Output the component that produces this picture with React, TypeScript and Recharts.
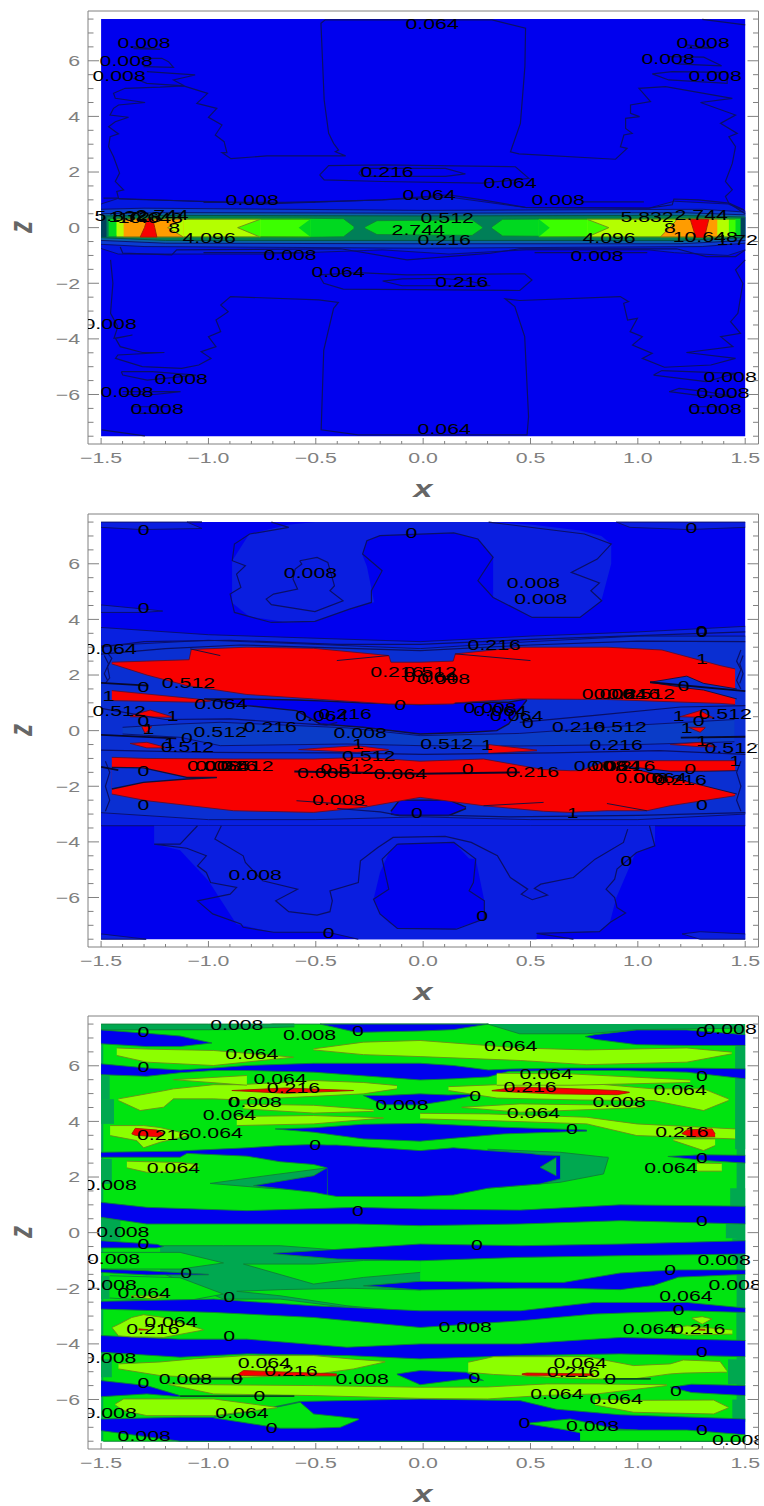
import { Area, ComposedChart, Scatter, XAxis, YAxis } from "recharts";

type Band = [number, number, number][];
type Path = [number, number][];
type Tag = [number, number, string][];
type Layer = { rows: Band; fill: string; stroke?: string; width?: number };
type Trace = { points: Path; stroke?: string; width?: number };

const xTicks = [-1.5,-1.4,-1.3,-1.2,-1.1,-1,-0.9,-0.8,-0.7,-0.6,-0.5,-0.4,-0.3,-0.2,-0.1,0,0.1,0.2,0.3,0.4,0.5,0.6,0.7,0.8,0.9,1,1.1,1.2,1.3,1.4,1.5];
const zTicks = [-7.5,-7,-6.5,-6,-5.5,-5,-4.5,-4,-3.5,-3,-2.5,-2,-1.5,-1,-0.5,0,0.5,1,1.5,2,2.5,3,3.5,4,4.5,5,5.5,6,6.5,7,7.5];

const BLUE = "#0000ee";
const NAVY = "#0a0f66";
const RED = "#f80000";
const DARKRED = "#5a1030";
const SEA = "#00a850";
const BRIGHT = "#00e410";
const LIME = "#8cff00";
const EDGE = "#0f8038";
const OLIVE = "#6c8c18";

const fullArea: Band = [[-1.5,7.5,-7.5],[1.5,7.5,-7.5]];

// top panel: the hot strip round z = 0
const stripA: Band = [[-1.5,0.85,-0.75],[-1.42,1.05,-0.95],[-0.73,0.85,-0.95],[-0.19,1,-0.8],[0.12,1.1,-0.95],[0.48,0.72,-0.8],[1.05,0.7,-0.8],[1.17,0.95,-0.9],[1.42,0.85,-1],[1.5,0.6,-0.8]];
const stripB: Band = [[-1.5,0.66,-0.6],[-1.3,0.7,-0.68],[0,0.62,-0.74],[1.3,0.66,-0.68],[1.5,0.56,-0.56]];
const stripC: Band = [[-1.5,0.5,-0.46],[-1.2,0.54,-0.56],[0,0.52,-0.58],[1.2,0.54,-0.58],[1.5,0.46,-0.46]];
const stripD: Band = [[-1.5,0.42,-0.36],[-1.2,0.44,-0.46],[0,0.42,-0.46],[1.2,0.44,-0.46],[1.5,0.38,-0.36]];
const stripEndLeft: Band = [[-1.5,0.4,-0.34],[-1.475,0.38,-0.34]];
const stripEndRight: Band = [[1.48,0.36,-0.34],[1.5,0.36,-0.34]];
const greenLeft: Band = [[-1.465,0.33,-0.33],[-0.572,0.34,-0.35],[-0.371,0.32,-0.33],[-0.324,0.05,-0.05]];
const greenMid: Band = [[-0.27,0.03,-0.03],[-0.215,0.25,-0.25],[0.228,0.28,-0.28],[0.275,0.03,-0.03]];
const greenRight: Band = [[0.321,0.03,-0.03],[0.37,0.3,-0.3],[1.3,0.34,-0.36],[1.478,0.34,-0.3]];
const limeLeft: Band = [[-1.43,0.3,-0.3],[-0.526,0.3,-0.33]];
const limeRight: Band = [[0.539,0.3,-0.33],[1.455,0.3,-0.3]];
const notchLeft: Band = [[-0.58,0,0],[-0.526,0.3,-0.33]];
const notchRight: Band = [[0.539,0.3,-0.33],[0.59,0,0]];
const yellowLeft: Band = [[-1.427,0.3,-0.33],[-0.759,0.3,-0.33]];
const yellowRight: Band = [[0.764,0.3,-0.33],[1.424,0.3,-0.33]];
const limeTipLeft: Band = [[-0.864,0,0],[-0.759,0.3,-0.34]];
const limeTipRight: Band = [[0.764,0.3,-0.34],[0.865,0,0]];
const orangeLeft: Band = [[-1.395,0.3,-0.33],[-1.116,0.3,-0.33]];
const yellowTip: Band = [[-1.19,0,0],[-1.116,0.3,-0.34]];
const orangeRight: Band = [[1.106,-0.33,-0.33],[1.175,0.22,-0.33],[1.18,0.3,-0.33],[1.37,0.3,-0.33]];
const redLeft: Band = [[-1.318,-0.34,-0.34],[-1.298,0.0,-0.34],[-1.285,0.32,-0.34],[-1.26,0.32,-0.34],[-1.25,0.0,-0.34],[-1.24,-0.34,-0.34]];
const redRight: Band = [[1.245,0.3,0.28],[1.27,0.3,-0.35],[1.31,0.3,-0.35],[1.33,0.3,0.28]];

const upperContour: Path = [[-1.489,1.06],[-1.419,1.06],[-1.427,1.3],[-1.395,1.36],[-1.434,1.66],[-1.414,1.96],[-1.442,2.55],[-1.465,2.91],[-1.458,3.27],[-1.419,3.37],[-1.465,3.63],[-1.434,3.81],[-1.372,3.97],[-1.458,4.05],[-1.442,4.29],[-1.419,4.41],[-1.295,4.5],[-1.434,4.65],[-1.442,4.83],[-1.388,5.01],[-1.225,5.05],[-1.116,5.1],[-1.004,4.83],[-1.054,4.47],[-0.961,4.29],[-1,3.97],[-0.937,3.69],[-0.968,3.33],[-0.927,3.09],[-0.914,2.7],[-0.937,2.7],[-0.895,2.48],[-0.728,2.58],[-0.361,2.58],[-0.409,2.73],[-0.394,2.79],[-0.417,3.03],[-0.44,3.39],[-0.461,4.59],[-0.476,7.35],[-0.456,7.47],[-0.19,7.47],[0.321,7.47],[0.477,7.17],[0.474,5.79],[0.453,3.75],[0.415,2.91],[0.407,2.73],[0.446,2.65],[0.896,2.46],[0.95,2.85],[0.919,2.91],[0.935,3.33],[0.974,3.39],[0.943,3.57],[0.943,3.93],[1.008,3.99],[0.966,4.11],[0.966,4.41],[1.059,4.53],[1.005,5.01],[1.129,5.07],[1.44,4.65],[1.292,4.5],[1.455,4.05],[1.385,3.75],[1.463,3.39],[1.424,3.27],[1.455,2.91],[1.44,2.31],[1.408,1.66],[1.44,1.36],[1.408,1.12],[1.424,0.88],[1.494,0.64]];
const lowerContour: Path = [[-1.456,-1.16],[-1.445,-2],[-1.456,-3.08],[-1.422,-3.56],[-1.44,-3.98],[-1.354,-3.86],[-1.433,-3.98],[-1.411,-4.28],[-1.308,-4.49],[-1.205,-4.49],[-1.422,-4.58],[-1.433,-4.7],[-1.308,-5],[-1.125,-5.06],[-1.045,-4.94],[-0.988,-4.7],[-1.034,-4.46],[-0.965,-4.28],[-1,-3.92],[-0.943,-3.74],[-0.965,-3.32],[-0.908,-3.02],[-0.943,-2.78],[-0.897,-2.48],[-0.486,-2.6],[-0.395,-2.69],[-0.417,-2.9],[-0.463,-4.4],[-0.475,-7.27],[-0.303,-7.45],[0.484,-7.45],[0.491,-6.8],[0.473,-3.92],[0.427,-2.84],[0.382,-2.56],[0.45,-2.62],[0.918,-2.48],[0.957,-2.66],[0.934,-2.72],[0.952,-3.32],[0.998,-3.26],[0.964,-3.74],[1.021,-3.92],[0.975,-4.22],[1.067,-4.52],[1.021,-4.7],[1.124,-5.02],[1.34,-4.94],[1.455,-4.7],[1.226,-4.49],[1.443,-4.28],[1.386,-3.92],[1.478,-3.8],[1.432,-3.38],[1.466,-3.08],[1.489,-2],[1.455,-1.52],[1.5,-1.16]];
const aboveStrip: Path = [[-1.419,1.03],[-0.728,0.88],[-0.19,1],[0.12,1.18],[0.275,1],[0.477,0.73],[1.051,0.7],[1.16,0.82],[1.168,1.03],[1.284,1],[1.424,0.88],[1.5,0.5]];
const belowStrip: Path = [[-1.411,-0.7],[-1.399,-0.92],[-1.171,-0.98],[-1.148,-0.8],[-0.383,-0.76],[-0.075,-1.16],[0.313,-0.92],[0.45,-0.76],[1.181,-0.76],[1.318,-1.04],[1.455,-1.04],[1.5,-0.8]];
const lensUpper: Path = [[-0.482,1.9],[-0.44,2.23],[-0.19,2.26],[0.43,2.19],[0.492,1.77],[0.275,1.6],[-0.191,1.66],[-0.461,1.72],[-0.482,1.9]];
const lensUpperInner: Path = [[-0.3,1.95],[-0.285,2.13],[0.104,2.13],[0.197,1.93],[0.104,1.84],[-0.285,1.84],[-0.3,1.95]];
const lensLower: Path = [[-0.486,-1.7],[-0.463,-2],[-0.372,-2.21],[0.45,-2.26],[0.507,-1.88],[0.473,-1.66],[-0.075,-1.7],[-0.303,-1.62],[-0.486,-1.7]];
const lensLowerInner: Path = [[-0.189,-1.92],[-0.098,-1.84],[0.085,-1.82],[0.2,-1.9],[0.313,-2.09],[-0.098,-2.09],[-0.189,-1.92]];
const smallPaths: Path[] = [
  [[-1.364,6.51],[-1.225,6.41],[-1.349,6.44]],
  [[-1.318,6.09],[-1.217,6.09],[-1.186,5.97],[-1.163,5.76],[-1.302,5.79]],
  [[-1.287,5.61],[-1.062,5.49],[-1.163,5.31],[-1.113,5.1],[-1.287,5.19],[-1.349,5.37]],
  [[1.23,6.57],[1.354,6.45],[1.23,6.45]],
  [[1.137,6.15],[1.307,6.13],[1.39,5.82],[1.175,5.89]],
  [[1.067,5.53],[1.16,5.61],[1.416,5.58],[1.416,5.19],[1.144,5.31],[1.067,5.53]],
  [[-1.023,0.91],[-0.503,0.91]],
  [[0.741,0.93],[1.028,0.93]],
  [[-1.023,-0.9],[-0.509,-0.9]],
  [[0.519,-0.9],[1.044,-0.9]],
  [[-1.406,-5.18],[-1.262,-5.18],[-1.057,-5.3],[-1.285,-5.48],[-1.399,-5.3],[-1.406,-5.18]],
  [[-1.4,-5.9],[-1.13,-5.9],[-1.25,-6],[-1.4,-6]],
  [[-1.354,-6.44],[-1.182,-6.44]],
  [[-1.354,-6.68],[-1.182,-6.68]],
  [[1.073,-5.3],[1.112,-5.14],[1.455,-5.24],[1.318,-5.54],[1.073,-5.3]],
  [[1.146,-5.9],[1.192,-5.78],[1.318,-5.9],[1.455,-6.08],[1.272,-6.02],[1.146,-5.9]],
  [[1.249,-6.44],[1.386,-6.44]],
  [[1.249,-6.66],[1.386,-6.66]],
  [[-1.497,-7.27],[-1.296,-7.49]],
  [[1.3,7.49],[1.5,7.29]],
];
const topTags: Tag = [[-1.3,6.64,"0.008"],[-1.383,6,"0.008"],[-1.416,5.46,"0.008"],[0.042,7.33,"0.064"],[1.304,6.64,"0.008"],[1.141,6.07,"0.008"],[1.36,5.46,"0.008"],[-0.168,2,"0.216"],[0.405,1.61,"0.064"],[0.028,1.18,"0.064"],[-0.796,1,"0.008"],[0.629,1,"0.008"],[0.112,0.35,"0.512"],[-1.407,0.42,"5.832"],[-1.341,0.38,"1.728"],[-1.271,0.35,"10.648"],[-1.216,0.45,"2.744"],[-1.16,0,"8"],[-0.997,-0.37,"4.096"],[-0.023,-0.08,"2.744"],[0.098,-0.44,"0.216"],[0.866,-0.37,"4.096"],[1.043,0.38,"5.832"],[1.295,0.45,"2.744"],[1.15,0,"8"],[1.314,-0.33,"10.648"],[1.49,-0.44,"1.728"],[-0.62,-0.98,"0.008"],[0.81,-1.01,"0.008"],[-0.396,-1.6,"0.064"],[0.18,-1.96,"0.216"],[-1.458,-3.46,"0.008"],[-1.127,-5.44,"0.008"],[-1.379,-5.91,"0.008"],[-1.239,-6.52,"0.008"],[0.098,-7.24,"0.064"],[1.43,-5.37,"0.008"],[1.397,-5.94,"0.008"],[1.36,-6.52,"0.008"]];

// middle panel
const blobTop: Band = [[-0.89,6.1,4.6],[-0.81,7.07,4.1],[-0.63,7.4,3.89],[-0.5,7.5,3.93],[-0.34,7.5,4.37],[-0.24,7.5,4.61],[0.33,7.5,4.79],[0.51,7.4,4.07],[0.73,7.2,4.07],[0.83,7,4.67],[0.876,6.71,6]];
const gapTop: Band = [[-0.282,6.35,6.3],[-0.262,6.83,5.9],[-0.201,7.01,3.6],[0.143,7.11,3.6],[0.255,6.89,3.6],[0.326,6.23,4.79]];
const cornerTopLeft: Band = [[-1.5,7.5,7.31],[-1.31,7.5,7.23],[-1.03,7.5,7.27],[-1.1,7.5,7.5]];
const cornerTopRight: Band = [[0.9,7.5,7.5],[0.963,7.5,7.31],[1.236,7.5,7.23],[1.5,7.5,7.31]];
const lensLeftEdge: Band = [[-1.5,4.52,4.25],[-1.31,4.38,4.25],[-1.213,4.3,4.3]];
const midOuter: Band = [[-1.5,3.71,-3.42],[-1,3.45,-3.42],[-0.014,3.2,-3.42],[0.5,3.4,-3.42],[1,3.55,-3.42],[1.5,3.75,-3.42]];
const blobBottom: Band = [[-1.253,-3.42,-4.08],[-1.132,-3.42,-4.3],[-1,-3.42,-5.4],[-0.87,-3.42,-6.95],[-0.7,-3.42,-7.25],[-0.44,-3.42,-7.25],[-0.3,-3.42,-7.5],[0.528,-3.42,-7.5],[0.53,-3.42,-7.29],[0.82,-3.42,-7.23],[0.87,-3.42,-6.89],[0.9,-3.42,-6],[0.99,-3.42,-4.38],[1.08,-3.42,-4.14]];
const gapBottom: Band = [[-0.231,-6.06,-6.06],[-0.201,-5.1,-6.59],[-0.16,-4.4,-6.9],[-0.12,-4.08,-7.11],[0.143,-4.02,-7.14],[0.214,-4.6,-6.95],[0.245,-4.62,-6.9],[0.285,-6.12,-6.77]];
const cornerBottomLeft: Band = [[-1.5,-7.31,-7.5],[-1.29,-7.5,-7.5]];
const cornerBottomRight: Band = [[1.206,-7.31,-7.31],[1.29,-7.23,-7.5],[1.5,-7.31,-7.5]];
const midInner: Band = [[-1.5,3.05,-2.95],[-1,3.25,-3.2],[-0.5,3.1,-3.2],[-0.014,2.95,-3.1],[0.5,3.2,-3.2],[1,3.4,-3.2],[1.5,3.4,-3]];
const midCore: Band = [[-1.4,0.12,-0.12],[-1.132,0.24,-0.24],[-0.945,0.3,-0.54],[-0.355,0.1,-0.48],[-0.014,-0.18,-0.54],[0.45,-0.1,-0.55],[1,0.2,-0.5],[1.45,0.4,-0.4]];
const pocket: Band = [[-1.02,1.14,1.14],[-0.82,1.14,0.9],[-0.59,1.1,0.72],[-0.48,1.07,0.24],[-0.28,1,0.12],[-0.014,0.94,-0.12],[0.219,1.02,-0.06],[0.343,1.02,0],[0.398,1.02,0.24],[0.483,1.14,1.1]];
const pocketLow: Band = [[-0.15,-2.9,-3],[-0.11,-2.5,-3.05],[0.12,-2.5,-3.05],[0.2,-2.75,-2.8]];
const redUpper: Band = [[-1.45,2.46,2.4],[-1.287,2.5,2],[-1.09,2.55,1.6],[-1.08,2.92,1.6],[-0.821,3,1.3],[-0.51,2.96,1.14],[-0.16,2.7,0.96],[-0.15,2.46,0.96],[-0.014,2.46,0.94],[0.14,2.5,0.96],[0.15,2.76,1],[0.452,3,1.14],[0.856,3,1.12],[1.112,2.9,1.05],[1.383,2.34,0.98],[1.453,2.22,0.94]];
const redUpperTail: Band = [[-1.45,1.44,1.08],[-1.054,1.14,1.02],[-0.99,1.08,1.06]];
const redLower: Band = [[-1.45,-0.96,-2.28],[-1.287,-1,-2.52],[-0.883,-1.02,-2.88],[-0.51,-1.02,-2.94],[-0.278,-0.96,-2.76],[-0.014,-1.1,-2.4],[0.281,-1.02,-2.7],[0.561,-1.4,-2.9],[0.685,-1.44,-2.94],[0.731,-1.44,-2.92],[0.856,-1.1,-2.88],[1.042,-1.08,-2.88],[1.151,-1.08,-2.7],[1.453,-1.08,-2.34]];
const wedgeUpperRight: Band = [[1.057,1.74,1.74],[1.228,1.96,1.53],[1.306,1.7,1.46],[1.461,1.5,1.14]];
const wedgeLowerLeft: Band = [[-1.45,-1.32,-2.1],[-1.303,-1.34,-1.86],[-1.101,-1.68,-1.74],[-0.961,-1.68,-1.69]];
const wedgeLowerRight: Band = [[0.918,-1.26,-1.27],[1.151,-1.46,-1.68],[1.306,-1.46,-1.98],[1.461,-1.44,-2.28]];
const smallReds: Band[] = [
  [[-1.365,0.54,0.5],[-1.271,0.74,0.49],[-1.17,0.5,0.48]],
  [[-1.31,0.15,0.13],[-1.295,0.15,-0.1],[-1.264,0.15,0.13]],
  [[-1.365,-0.46,-0.46],[-1.287,-0.42,-0.62],[-1.2,-0.6,-0.62]],
  [[-0.58,-0.68,-0.68],[-0.309,-0.54,-0.78],[-0.161,-0.68,-0.7]],
  [[0.304,-0.5,-0.82],[0.53,-0.7,-0.72]],
  [[1.151,-0.5,-0.5],[1.29,-0.42,-0.58],[1.368,-0.58,-0.58]],
  [[1.197,0.5,0.5],[1.29,0.72,0.48],[1.352,0.46,0.46]],
  [[1.236,0.12,0.12],[1.29,0.12,-0.06],[1.314,0.12,0.1]],
];
const midLines: Path[] = [
  [[-1.5,3],[-1.3,3.2],[-0.9,3.25],[-0.4,3.1],[-0.014,3.1],[0.5,3.28],[1,3.42],[1.5,3.55]],
  [[-1.5,2.75],[-1.2,2.95],[-0.85,3.08],[-0.014,2.88],[0.5,3.08],[1,3.22],[1.5,3.2]],
  [[-1.47,2.8],[-1.45,2.6],[-1.47,2.3],[-1.46,1.9],[-1.48,1.7]],
  [[-1.485,2.7],[-1.465,2.4],[-1.485,2.05],[-1.47,1.8]],
  [[1.48,2.9],[1.46,2.5],[1.48,2.2],[1.46,1.8],[1.48,1.5]],
  [[1.49,2.7],[1.475,2.4],[1.49,2.05],[1.475,1.7]],
  [[-1.48,-1.1],[-1.46,-1.5],[-1.48,-2],[-1.46,-2.5],[-1.48,-2.9]],
  [[1.48,-1.1],[1.46,-1.5],[1.48,-2],[1.46,-2.5],[1.48,-2.9]],
  [[-1.5,0.8],[-1.2,0.4],[-0.9,0.42],[-0.45,0.2],[-0.4,0.3]],
  [[0.45,0.3],[0.8,0.55],[1.2,0.85],[1.5,0.9]],
  [[-1.5,-0.7],[-1,-0.78],[-0.4,-0.8],[0,-0.85],[0.6,-0.8],[1.1,-0.72],[1.5,-0.85]],
  [[-0.4,-2.8],[-0.2,-2.92],[-0.11,-3.05],[0.12,-3.05],[0.4,-3.1],[1,-3.05],[1.5,-2.95]],
];
const thickLines: Path[] = [
  [[-0.6,-1.47],[-0.014,-1.55],[0.45,-1.5]],
  [[-1.5,-0.15],[-1.15,-0.28]],
  [[-1.5,1.72],[-1.28,1.62]],
  [[1.057,1.74],[1.5,1.42]],
  [[1.2,-0.25],[1.5,-0.22]],
  [[-1.5,-1.3],[-1.42,-1.42]],
];
const thinDark: Path[] = [
  [[-0.402,2.52],[-0.161,2.7]],
  [[0.149,2.76],[0.5,2.52]],
  [[-1.085,2.94],[-0.945,2.7]],
  [[-0.59,-2.52],[-0.26,-2.7]],
  [[0.281,-2.7],[0.561,-2.58]],
  [[0.856,-2.62],[1.042,-2.88]],
];
const blobOutline: Path = [[-0.707,7.5],[-0.626,7.31],[-0.808,7.07],[-0.879,6.71],[-0.889,6.11],[-0.828,5.93],[-0.869,5.63],[-0.849,5.15],[-0.899,4.91],[-0.879,4.25],[-0.707,3.89],[-0.504,3.93],[-0.343,4.37],[-0.241,4.61],[-0.241,5.03],[-0.191,5.75],[-0.282,6.35],[-0.262,6.83],[-0.201,7.01],[0.143,7.11],[0.255,6.89],[0.326,6.23],[0.255,5.39],[0.326,4.79],[0.508,4.07],[0.73,4.07],[0.832,4.67],[0.781,5.03],[0.821,5.31],[0.69,5.69],[0.811,6.17],[0.876,6.71],[0.751,7.07],[0.305,7.5]];
const blobInner: Path = [[-0.575,6.11],[-0.494,6.23],[-0.444,6.05],[-0.413,5.21],[-0.434,5.03],[-0.373,4.67],[-0.504,4.28],[-0.707,4.53],[-0.731,4.73],[-0.697,4.91],[-0.585,5.09],[-0.606,5.45],[-0.596,5.81],[-0.565,5.99],[-0.575,6.11]];
const lowLeftEdge: Path = [[-1.051,-3.42],[-1.132,-4.08],[-1.253,-4.08],[-1.101,-4.23],[-1.01,-4.5],[-1.051,-4.86],[-1.01,-5.1],[-0.99,-5.46],[-0.869,-5.64],[-0.899,-5.88],[-1.051,-6.12],[-0.98,-6.59],[-0.849,-6.95],[-0.838,-7.07],[-0.697,-7.25],[-0.444,-7.25],[-0.302,-7.5]];
const lowRightEdge: Path = [[1.054,-3.42],[1.079,-4.14],[0.994,-4.38],[0.903,-4.98],[0.892,-5.34],[0.852,-5.7],[0.892,-6],[0.903,-6.36],[0.943,-6.56],[0.872,-6.89],[0.821,-7.23],[0.528,-7.29],[0.7,-7.5]];
const lowArc: Path = [[-0.94,-3.42],[-0.97,-3.9],[-0.838,-4.5],[-0.828,-4.74],[-0.747,-5.4],[-0.585,-5.7],[-0.687,-6.12],[-0.626,-6.51],[-0.494,-6.63],[-0.434,-6.51],[-0.423,-6.12],[-0.434,-5.76],[-0.302,-5.46],[-0.292,-4.68],[-0.211,-4.2],[-0.14,-3.84],[0.103,-3.8],[0.224,-4.02],[0.346,-4.5],[0.406,-5.28],[0.487,-5.7],[0.457,-5.88],[0.508,-6.08],[0.579,-5.91],[0.518,-5.67],[0.548,-5.52],[0.7,-5.28],[0.801,-4.62],[0.933,-4.02],[0.953,-3.54]];
const lowGap: Path = [[-0.12,-4.08],[0.143,-4.02],[0.245,-4.62],[0.234,-5.46],[0.214,-5.76],[0.285,-6.12],[0.285,-6.77],[0.154,-7.14],[-0.12,-7.11],[-0.201,-6.59],[-0.231,-6.06],[-0.16,-5.7],[-0.191,-4.62],[-0.12,-4.08]];
const midTags: Tag = [[-1.302,7.21,"0"],[-0.055,7.11,"0"],[1.25,7.31,"0"],[-0.525,5.69,"0.008"],[0.514,5.31,"0.008"],[0.548,4.73,"0.008"],[-1.302,4.41,"0"],[1.297,3.59,"0"],[-1.458,2.94,"0.064"],[-1.303,1.58,"0"],[-1.093,1.71,"0.512"],[-1.466,1.26,"1"],[-0.942,0.96,"0.064"],[-1.416,0.72,"0.512"],[-1.167,0.54,"1"],[-1.303,0.34,"0"],[-1.279,0.06,"1"],[-0.945,-0.03,"0.512"],[-0.712,0.14,"0.216"],[-0.472,0.54,"0.064"],[-0.363,0.6,"0.216"],[-0.293,-0.06,"0.008"],[-1.1,-0.26,"0"],[-1.18,-0.42,"1"],[-1.098,-0.58,"0.512"],[-0.304,-0.48,"1"],[-0.254,-0.9,"0.512"],[-0.976,-1.26,"0.008"],[-0.937,-1.26,"0.064"],[-0.898,-1.26,"0.216"],[-0.821,-1.26,"0.512"],[-1.303,-1.44,"0"],[-0.464,-1.5,"0.008"],[-0.355,-1.38,"0.512"],[-0.107,-1.54,"0.064"],[-1.303,-2.66,"0"],[-0.394,-2.5,"0.008"],[-0.029,-2.96,"0"],[-0.122,2.1,"0.216"],[0.033,2.1,"0.512"],[0.095,1.88,"0.008"],[0.033,1.92,"0.064"],[-0.107,0.93,"0"],[0.331,3.09,"0.216"],[1.298,3.54,"0"],[1.298,2.58,"1"],[1.213,1.62,"0"],[0.863,1.32,"0.008"],[0.918,1.32,"0.064"],[0.98,1.32,"0.216"],[1.05,1.32,"0.512"],[0.312,0.82,"0.008"],[0.359,0.72,"0.064"],[0.436,0.54,"0.064"],[0.488,0.3,"0"],[1.19,0.54,"1"],[1.283,0.36,"0"],[1.407,0.6,"0.512"],[1.228,0.12,"1"],[0.724,0.14,"0.216"],[0.918,0.14,"0.512"],[0.11,-0.48,"0.512"],[0.297,-0.5,"1"],[0.899,-0.5,"0.216"],[1.298,-0.38,"1"],[1.435,-0.6,"0.512"],[1.453,-1.1,"1"],[0.208,-1.38,"0"],[0.509,-1.48,"0.216"],[0.825,-1.26,"0.008"],[0.887,-1.26,"0.064"],[0.957,-1.26,"0.216"],[1.019,-1.7,"0.008"],[1.104,-1.7,"0.064"],[1.197,-1.78,"0.216"],[1.244,-1.38,"0"],[1.298,-2.66,"0"],[0.696,-2.96,"1"],[-0.782,-5.19,"0.008"],[0.947,-4.68,"0"],[0.275,-6.65,"0"],[-0.44,-7.28,"0"]];

// bottom panel
const brightBase: Band = [[-1.49,7.3,-7.5],[-0.9,7.3,-7.5],[-0.7,7.5,-7.5],[-0.48,7.5,-7.5],[0.3,7.5,-7.5],[0.45,7.15,-7.5],[0.76,7.15,-7.5],[1,7.3,-7.5],[1.46,7.35,-7.5]];
const seaColumns: Band[] = [
  [[-1.5,5.65,4.8],[-1.46,5.65,4.8]],
  [[-1.5,4.8,3.91],[-1.44,4.8,3.91]],
  [[-1.5,2.65,1.75],[-1.45,2.65,1.75]],
  [[-1.5,0.55,-0.29],[-1.41,0.55,-0.29]],
  [[-1.5,-1.55,-2.39],[-1.46,-1.55,-2.39]],
  [[-1.5,-4.55,-5.2],[-1.45,-4.55,-5.2]],
  [[1.453,6.7,3],[1.5,6.7,3]],
  [[1.43,1.6,0.9],[1.5,1.6,0.9]],
  [[1.41,0.9,-0.2],[1.5,0.9,-0.2]],
  [[1.44,-0.2,-1],[1.5,-0.2,-1]],
  [[1.46,-2.9,-3.9],[1.5,-2.9,-3.9]],
  [[1.42,-4.55,-5.45],[1.5,-4.55,-5.45]],
  [[1.44,-6,-6.8],[1.5,-6,-6.8]],
];
const seaCentre: Band = [[-1.225,-0.47,-1.43],[-0.93,-0.47,-2.39],[-0.666,-0.47,-2.39],[-0.355,-0.65,-2.69],[-0.014,-0.98,-2.09]];
const seaRight: Band = [[0.3,3,1.6],[0.638,2.89,1.81],[0.84,2.72,2.11],[0.863,2.71,2.69]];
const seaLeft: Band = [[-0.992,1.77,1.77],[-0.728,2.05,1.6],[-0.448,2.33,1.5]];
const seaStripTop: Band = [[-1.5,7.5,7.29],[-1,7.5,7.3],[-0.6,7.5,7.4]];
const brightFingers: Band[] = [
  [[-1.5,-0.71,-1.31],[-1.132,-0.71,-1.31],[-0.93,-1.09,-1.09]],
  [[-1.46,-1.55,-2.35],[-1.132,-1.62,-2.5],[-0.93,-2.21,-2.21]],
  [[-0.837,-1.13,-1.13],[-0.51,-1.13,-1.85],[-0.278,-1,-1.61],[-0.014,-0.98,-1.43]],
  [[-0.868,-2.11,-2.11],[-0.666,-2.05,-2.27],[-0.355,-2,-2.63],[-0.014,-2.06,-2.87]],
];
const blueLanes: Band[] = [
  [[-1.5,7.29,6.79],[-1.287,7.17,6.69],[-1.132,7.07,6.69],[-0.984,6.82,6.82]],
  [[-0.48,7.5,7.5],[-0.309,7.5,7.2],[-0.014,7.5,7.25],[0.141,7.5,7.3],[0.304,7.5,7.5]],
  [[0.755,7.05,7.05],[0.801,7.12,6.95],[0.995,7.29,6.76],[1.228,7.29,6.73],[1.5,7.12,6.73]],
  [[-1.5,6.07,5.68],[-1.287,5.92,5.62],[-1.132,5.85,5.75],[-0.976,5.92,5.83],[-0.821,6.01,5.83],[-0.51,6.09,5.77],[-0.014,6.09,5.49],[0.141,6.01,5.53],[0.304,5.85,5.6],[0.4,5.88,5.8],[0.685,5.92,5.83],[0.918,5.92,5.83],[1.228,5.92,5.77],[1.5,5.89,5.53]],
  [[-0.278,4.93,4.93],[-0.185,4.93,4.6],[-0.014,4.99,4.59],[0.118,4.95,4.75],[0.28,4.99,4.99]],
  [[-0.689,3.73,3.73],[-0.51,3.77,3.61],[-0.278,3.9,3.37],[-0.014,3.93,3.29],[0.374,3.79,3.55],[0.762,3.69,3.65]],
  [[-1.5,2.89,2.71],[-1.132,2.93,2.71],[-1.1,2.95,2.85],[-0.821,3.05,2.75],[-0.666,3.13,2.55],[-0.51,3.17,2.45],[-0.448,3.15,2.33],[-0.447,3.15,1.36],[-0.402,3.15,1.3],[-0.014,2.95,1.3],[0.141,3.05,1.35],[0.304,2.95,1.6],[0.498,2.85,1.72],[0.545,2.8,1.75],[0.638,2.77,1.93]],
  [[-0.79,1.69,1.69],[-0.51,2.05,1.45],[-0.448,2.33,1.36]],
  [[1.14,2.74,2.74],[1.3,2.8,2.6],[1.5,2.78,2.5]],
  [[-1.5,1.09,0.55],[-1.287,0.91,0.31],[-0.821,0.79,0.31],[-0.309,0.91,0.31],[-0.014,0.85,0.25],[0.452,0.81,0.31],[0.918,1,0.43],[1.5,0.95,0.31]],
  [[-1.5,-0.29,-0.55],[-1.24,-0.42,-0.55],[-1.209,-0.5,-0.5]],
  [[-0.697,-0.74,-0.76],[-0.4,-0.6,-0.95],[-0.014,-0.41,-1.01],[0.452,-0.47,-0.89],[0.918,-0.41,-0.83],[1.5,-0.29,-0.77]],
  [[-1.5,-1.31,-1.43],[-1.287,-1.37,-1.52],[-1,-1.5,-1.52]],
  [[-0.278,-1.91,-1.91],[-0.014,-1.75,-2.06],[0.452,-1.79,-2],[0.654,-1.79,-2],[0.918,-1.45,-2.05],[1.073,-1.38,-1.9],[1.19,-1.34,-1.6],[1.5,-1.34,-1.5]],
  [[-1.5,-2.47,-2.75],[-0.976,-2.39,-2.87],[-0.51,-2.63,-3.05],[-0.014,-2.81,-3.41],[0.452,-2.81,-3.17],[0.794,-2.51,-2.93],[1.228,-2.51,-2.81],[1.5,-2.71,-2.87]],
  [[-1.5,-3.7,-4.3],[-1.132,-3.83,-4.48],[-0.821,-3.83,-4.36],[-0.355,-4.12,-4.42],[-0.014,-4,-4.54],[0.452,-4,-4.42],[0.918,-3.77,-4.36],[1.5,-3.88,-4.46]],
  [[-1.5,-5.32,-5.9],[-1.287,-5.5,-5.8],[-1.132,-5.86,-5.9]],
  [[-0.122,-5.08,-5.1],[-0.014,-4.96,-5.47],[0.2,-5.02,-5.26],[0.281,-5.32,-5.32]],
  [[1.151,-5.56,-5.56],[1.25,-5.45,-5.75],[1.5,-5.5,-5.86]],
  [[-1.5,-6.7,-7.12],[-1.132,-6.64,-7.5],[-0.93,-6.64,-7.5],[-0.573,-6.07,-7.5],[-0.014,-5.98,-7.5],[0.452,-6.04,-7.5],[0.62,-6.35,-7.5],[0.918,-6.55,-7.5],[1.5,-6.7,-7.5]],
];
const seaNotch: Band = [[0.545,2.35,2.35],[0.62,2.7,2.05]];
const overBlue: Band[] = [
  [[0.49,-6.85,-6.88],[0.685,-6.7,-7.12],[0.9,-7.06,-7.5],[1,-7.1,-7.5]],
  [[0.731,-7.1,-7.5],[1.228,-7.1,-7.5],[1.5,-7.27,-7.5]],
  [[-0.976,-6.64,-6.66],[-0.666,-6.25,-7.03],[-0.573,-6.1,-7.03],[-0.51,-6.52,-7.03],[-0.386,-6.62,-7],[-0.3,-6.7,-6.72]],
];
const limePatches: Band[] = [
  [[-1.427,6.64,6.37],[-1.287,6.6,6.13],[-0.976,6.55,6.01],[-0.604,6.31,6.31]],
  [[-0.51,6.61,6.57],[-0.278,6.85,6.4],[-0.014,6.91,6.33],[0.452,6.64,6.19],[0.762,6.57,6.04],[1.228,6.64,6.13],[1.438,6.49,6.43]],
  [[-1.419,4.81,4.75],[-1.318,4.95,4.39],[-1.209,5.1,4.51],[-1.163,5.17,4.81],[-0.976,5.32,4.81],[-0.852,5.32,4.77],[-0.51,5.47,4.9],[-0.278,5.4,4.99],[-0.122,5.29,5.17]],
  [[-1.163,5.5,5.5],[-0.821,5.65,5.3]],
  [[0.118,5.25,5.11],[0.343,5.32,4.84],[0.731,5.4,4.77],[1.073,5.17,4.75],[1.306,5.17,4.39],[1.422,4.81,4.75]],
  [[0.343,5.73,5.3],[0.685,5.71,5.3],[1.244,5.49,5.4]],
  [[-0.837,4.62,4.45],[-0.51,4.58,4.3],[-0.231,4.42,4.36]],
  [[-0.868,4.18,3.85],[-0.51,4.21,3.91],[-0.185,4.13,4.12]],
  [[0.18,4.51,4.5],[0.452,4.63,4.33],[1.026,4.57,4.5]],
  [[-0.014,4.29,4.09],[0.304,4.27,4.03],[0.762,4.15,3.91],[0.995,3.91,3.49],[1.453,3.73,3.37]],
  [[1.166,3.37,3.31],[1.306,3.37,2.95],[1.36,3.37,3.13]],
  [[-1.458,3.85,3.49],[-1.334,3.85,3.31],[-1.302,3.85,3.05],[-1.225,3.78,3.25],[-1.085,3.52,3.5]],
  [[-1.38,2.57,2.33],[-1.287,2.55,2.17],[-1.132,2.52,2.17],[-1.047,2.45,2.35]],
  [[1.275,2.5,2.21],[1.391,2.49,2.21]],
  [[-1.36,-2.27,-2.3],[-1.25,-2.27,-2.39],[-1.2,-2.3,-2.3]],
  [[-1.449,-3.41,-3.42],[-1.419,-3.3,-3.71],[-1.357,-3.05,-3.75],[-1.302,-2.95,-3.75],[-1.209,-3.05,-3.77],[-1.023,-3.49,-3.5]],
  [[-1.419,-4.72,-4.9],[-1.225,-4.65,-5.14],[-1.07,-4.54,-5.2],[-0.821,-4.42,-5.2],[-0.51,-4.42,-5.1],[-0.324,-4.55,-4.9],[-0.177,-4.63,-4.65]],
  [[-1.186,-5.44,-5.46],[-0.976,-5.47,-5.8],[-0.51,-5.5,-5.86],[-0.014,-5.56,-5.96],[0.3,-5.55,-5.98],[0.576,-5.44,-5.85],[0.809,-5.44,-5.8],[1.135,-5.47,-5.5]],
  [[0.21,-4.66,-5.02],[0.328,-4.46,-5.1],[0.762,-4.46,-5.26],[0.98,-4.78,-5.26],[1.151,-4.72,-5.08],[1.212,-4.58,-5.05],[1.383,-4.63,-5.02],[1.414,-4.96,-5.02]],
  [[0.801,-5.98,-6.2],[0.98,-6.03,-6.46],[1.353,-6.02,-6.52],[1.422,-6.28,-6.3]],
  [[-1.434,-6.16,-6.2],[-1.395,-5.98,-6.4],[-1.287,-5.98,-6.58],[-0.976,-5.98,-6.58],[-0.682,-6.28,-6.3]],
  [[1.13,-3.45,-3.5],[1.23,-3.35,-3.68],[1.44,-3.5,-3.65]],
  [[1.252,-3.07,-3.08],[1.3,-3.02,-3.29],[1.345,-3.1,-3.1]],
];
const redPatches: Band[] = [
  [[-0.891,5.11,5.11],[-0.64,5.2,5.01],[-0.324,5.11,5.11]],
  [[0.32,5.11,5.1],[0.437,5.23,5.05],[0.607,5.2,4.99],[0.904,5.11,4.96],[0.961,5.05,5.04]],
  [[-1.357,3.55,3.55],[-1.341,3.75,3.5],[-1.24,3.69,3.45],[-1.209,3.57,3.5]],
  [[1.205,3.57,3.56],[1.228,3.69,3.5],[1.244,3.7,3.45],[1.346,3.73,3.45],[1.36,3.55,3.45]],
  [[-1.325,-3.46,-3.5],[-1.28,-3.49,-3.5]],
  [[1.283,-3.47,-3.5],[1.314,-3.48,-3.51]],
  [[-0.868,-5.12,-5.13],[-0.837,-4.96,-5.14],[-0.402,-5.08,-5.15]],
  [[0.46,-5.08,-5.1],[0.483,-5.05,-5.13],[0.793,-5.08,-5.14]],
];
const bottomDark: Path[] = [
  [[-1.132,-5.88],[-0.6,-5.88]],
  [[-1.08,-5.26],[-0.84,-5.26]],
  [[0.84,-5.26],[1.06,-5.26]],
];
const bottomTags: Tag = [[-1.303,7.21,"0"],[-0.868,7.48,"0.008"],[-0.529,7.11,"0.008"],[-0.304,7.27,"0"],[-0.798,6.43,"0.064"],[-1.303,5.97,"0"],[-0.666,5.53,"0.064"],[-0.604,5.2,"0.216"],[-0.883,4.72,"0"],[-0.782,4.72,"0.008"],[-0.099,4.6,"0.008"],[-0.902,4.23,"0.064"],[-1.209,3.52,"0.216"],[-0.964,3.59,"0.064"],[-0.503,3.15,"0"],[-1.163,2.33,"0.064"],[-1.458,1.73,"0.008"],[-0.304,0.79,"0"],[-1.399,0.04,"0.008"],[1.43,7.33,"0.008"],[1.298,7.23,"0"],[0.408,6.73,"0.064"],[1.298,5.65,"0"],[0.573,5.71,"0.064"],[0.498,5.23,"0.216"],[1.197,5.13,"0.064"],[0.242,4.93,"0"],[0.913,4.71,"0.008"],[0.514,4.3,"0.064"],[0.693,3.75,"0"],[1.205,3.61,"0.216"],[1.298,2.71,"0"],[1.154,2.33,"0.064"],[1.298,0.43,"0"],[-1.303,-0.41,"0"],[-1.442,-0.95,"0.008"],[-1.104,-1.43,"0"],[-1.458,-1.87,"0.008"],[-1.299,-2.17,"0.064"],[-0.903,-2.3,"0"],[-1.175,-3.21,"0.064"],[-1.259,-3.47,"0.216"],[-0.903,-3.72,"0"],[-1.46,-4.51,"0.008"],[-0.74,-4.69,"0.064"],[-0.616,-4.96,"0.216"],[-0.868,-5.26,"0"],[-1.107,-5.26,"0.008"],[-0.284,-5.26,"0.008"],[-1.303,-5.41,"0"],[-0.762,-5.86,"0"],[-1.458,-6.49,"0.008"],[-0.844,-6.49,"0.064"],[-0.705,-7,"0"],[-1.299,-7.3,"0.008"],[0.25,-0.44,"0"],[1.402,-0.98,"0.008"],[1.151,-1.34,"0"],[1.453,-1.87,"0.008"],[1.224,-2.27,"0.064"],[1.19,-2.78,"0"],[0.196,-3.38,"0.008"],[1.054,-3.47,"0.064"],[1.283,-3.47,"0.216"],[1.298,-4.28,"0"],[0.731,-4.69,"0.064"],[0.7,-5.02,"0.216"],[0.239,-5.2,"0"],[0.871,-5.26,"0"],[1.177,-5.68,"0"],[0.623,-5.8,"0.064"],[0.899,-5.98,"0.064"],[0.472,-6.85,"0"],[0.789,-6.94,"0.008"],[1.298,-7.1,"0"],[1.469,-7.46,"0.008"]];

const topLayers: Layer[] = [
  { rows: fullArea, fill: BLUE },
  { rows: stripA, fill: "#0318e2", stroke: NAVY },
  { rows: stripB, fill: "#0a3dd0", stroke: NAVY },
  { rows: stripC, fill: "#0a60a8", stroke: NAVY },
  { rows: stripD, fill: "#007f58", stroke: "#06503c" },
  { rows: greenLeft, fill: "#00d820", stroke: EDGE },
  { rows: greenMid, fill: "#00d820", stroke: EDGE },
  { rows: greenRight, fill: "#00d820", stroke: EDGE },
  { rows: limeLeft, fill: "#3cff00", stroke: "#3a9a10" },
  { rows: limeRight, fill: "#3cff00", stroke: "#3a9a10" },
  { rows: notchLeft, fill: "#00d820" },
  { rows: notchRight, fill: "#00d820" },
  { rows: yellowLeft, fill: "#b4ff00", stroke: OLIVE },
  { rows: yellowRight, fill: "#b4ff00", stroke: OLIVE },
  { rows: limeTipLeft, fill: "#3cff00", stroke: OLIVE },
  { rows: limeTipRight, fill: "#3cff00", stroke: OLIVE },
  { rows: orangeLeft, fill: "#ff9c00", stroke: "#9a7010" },
  { rows: orangeRight, fill: "#ff9c00", stroke: "#9a7010" },
  { rows: yellowTip, fill: "#b4ff00", stroke: "#9a7010" },
  { rows: redLeft, fill: RED, stroke: "#a02000" },
  { rows: redRight, fill: RED, stroke: "#a02000" },
  { rows: stripEndLeft, fill: "#00405c" },
  { rows: stripEndRight, fill: "#00405c" },
];
const topTraces: Trace[] = [upperContour, lowerContour, aboveStrip, belowStrip, lensUpper, lensUpperInner, lensLower, lensLowerInner, ...smallPaths].map((points) => ({ points }));

const midLayers: Layer[] = [
  { rows: fullArea, fill: BLUE },
  { rows: blobTop, fill: "#0a1ee0" },
  { rows: gapTop, fill: BLUE },
  { rows: cornerTopLeft, fill: "#0a1ee0", stroke: NAVY },
  { rows: cornerTopRight, fill: "#0a1ee0", stroke: NAVY },
  { rows: lensLeftEdge, fill: "#0a1ee0", stroke: NAVY },
  { rows: midOuter, fill: "#0820e0", stroke: NAVY },
  { rows: blobBottom, fill: "#0a1ee0" },
  { rows: gapBottom, fill: BLUE },
  { rows: cornerBottomLeft, fill: "#0a1ee0", stroke: NAVY },
  { rows: cornerBottomRight, fill: "#0a1ee0", stroke: NAVY },
  { rows: midInner, fill: "#0a2fd2", stroke: NAVY },
  { rows: midCore, fill: "#0a3cc8", stroke: NAVY },
  { rows: pocket, fill: BLUE, stroke: "#10103a", width: 1.4 },
  { rows: pocketLow, fill: BLUE, stroke: "#10103a", width: 1.4 },
  { rows: redUpper, fill: RED, stroke: DARKRED },
  { rows: redUpperTail, fill: RED, stroke: DARKRED },
  { rows: redLower, fill: RED, stroke: DARKRED },
  { rows: wedgeUpperRight, fill: "#0a2fd2", stroke: "#10103a" },
  { rows: wedgeLowerLeft, fill: "#0a2fd2", stroke: "#10103a", width: 1.4 },
  { rows: wedgeLowerRight, fill: "#0a2fd2", stroke: "#10103a" },
  ...smallReds.map((rows) => ({ rows, fill: RED, stroke: DARKRED })),
];
const midTraces: Trace[] = [
  ...[blobOutline, blobInner, lowLeftEdge, lowRightEdge, lowArc, lowGap, ...midLines].map((points) => ({ points })),
  ...thickLines.map((points) => ({ points, stroke: "#08082a", width: 1.8 })),
  ...thinDark.map((points) => ({ points, stroke: "#20103a", width: 1 })),
];

const bottomLayers: Layer[] = [
  { rows: fullArea, fill: SEA },
  { rows: brightBase, fill: BRIGHT, stroke: EDGE },
  ...seaColumns.map((rows) => ({ rows, fill: SEA })),
  { rows: seaCentre, fill: SEA, stroke: EDGE },
  { rows: seaRight, fill: SEA, stroke: EDGE },
  { rows: seaLeft, fill: SEA, stroke: EDGE },
  { rows: seaStripTop, fill: SEA, stroke: EDGE },
  ...brightFingers.map((rows) => ({ rows, fill: BRIGHT, stroke: EDGE })),
  ...blueLanes.map((rows) => ({ rows, fill: BLUE, stroke: EDGE })),
  { rows: seaNotch, fill: SEA, stroke: EDGE },
  ...overBlue.map((rows) => ({ rows, fill: BRIGHT, stroke: EDGE })),
  ...limePatches.map((rows) => ({ rows, fill: LIME, stroke: OLIVE })),
  ...redPatches.map((rows) => ({ rows, fill: RED, stroke: "#a02000" })),
];
const bottomTraces: Trace[] = bottomDark.map((points) => ({ points, stroke: "#0a4a20", width: 1.6 }));

const STRETCH = 1.42;
const GRAY = "#808080";

function Wide(props: { x: number; y: number; text: string; size: number; fill: string; anchor?: "middle" | "end" }) {
  return (
    <text
      transform={`translate(${props.x},${props.y}) scale(${STRETCH},1)`}
      textAnchor={props.anchor ?? "middle"}
      dy="0.35em"
      fontFamily="Liberation Sans, Arial, sans-serif"
      fontSize={props.size}
      fill={props.fill}
    >
      {props.text}
    </text>
  );
}

const isMajorX = (v: number) => Math.abs(v * 2 - Math.round(v * 2)) < 1e-6;
const fmtX = (v: number) => (v < 0 ? "\u2212" : "") + Math.abs(v).toFixed(1);

function BottomTick({ x, y, payload }: any) {
  const major = isMajorX(payload.value);
  return (
    <g>
      <line x1={x} x2={x} y1={y} y2={y - (major ? 6 : 3)} stroke={GRAY} />
      {major && <Wide x={x} y={y + 14} text={fmtX(payload.value)} size={15} fill={GRAY} />}
    </g>
  );
}
function TopTick({ x, y, payload }: any) {
  return <line x1={x} x2={x} y1={y} y2={y + (isMajorX(payload.value) ? 5 : 3)} stroke={GRAY} />;
}
function LeftTick({ x, y, payload }: any) {
  const major = payload.value % 2 === 0;
  return (
    <g>
      <line x1={x} x2={x + (major ? 11 : 5.5)} y1={y} y2={y} stroke={GRAY} />
      {major && <Wide x={x - 8} y={y} text={payload.value < 0 ? `\u2212${-payload.value}` : `${payload.value}`} size={15} fill={GRAY} anchor="end" />}
    </g>
  );
}
function RightTick({ x, y, payload }: any) {
  return <line x1={x} x2={x - (payload.value % 2 === 0 ? 11 : 5.5)} y1={y} y2={y} stroke={GRAY} />;
}

const toRows = (band: Band) => band.map(([x, hi, lo]) => ({ x, band: [lo, hi] }));
const toPoints = (path: Path) => path.map(([x, z]) => ({ x, z }));
const toTags = (tags: Tag) => tags.map(([x, z, text]) => ({ x, z, text }));

function Panel({ id, top, layers, traces, tags }: { id: string; top: number; layers: Layer[]; traces: Trace[]; tags: Tag }) {
  return (
    <div style={{ position: "absolute", left: 0, top }}>
      <ComposedChart width={764} height={500} data={[]} margin={{ top: 0, right: 0, bottom: 0, left: 0 }}>
        <defs>
          <clipPath id={id}>
            <rect x={88} y={11} width={676} height={433} />
          </clipPath>
        </defs>
        <XAxis dataKey="x" type="number" domain={[-1.561, 1.562]} ticks={xTicks} interval={0} height={56} allowDataOverflow tickLine={false} tickSize={0} tickMargin={0} tick={<BottomTick />} stroke={GRAY} />
        <XAxis xAxisId="top" orientation="top" type="number" domain={[-1.561, 1.562]} ticks={xTicks} interval={0} height={11} allowDataOverflow tickLine={false} tickSize={0} tickMargin={0} tick={<TopTick />} stroke={GRAY} />
        <YAxis dataKey="z" type="number" domain={[-7.78, 7.79]} ticks={zTicks} interval={0} width={88} allowDataOverflow tickLine={false} tickSize={0} tickMargin={0} tick={<LeftTick />} stroke={GRAY} />
        <YAxis yAxisId="right" orientation="right" type="number" domain={[-7.78, 7.79]} ticks={zTicks} interval={0} width={5.5} allowDataOverflow tickLine={false} tickSize={0} tickMargin={0} tick={<RightTick />} stroke={GRAY} />
        {layers.map((l, i) => (
          <Area
            key={i}
            data={toRows(l.rows)}
            dataKey="band"
            type="linear"
            fill={l.fill}
            fillOpacity={1}
            stroke={l.stroke ?? "none"}
            strokeWidth={l.width ?? 0.9}
            dot={false}
            activeDot={false}
            isAnimationActive={false}
          />
        ))}
        {traces.map((t, i) => (
          <Scatter
            key={i}
            data={toPoints(t.points)}
            line={{ stroke: t.stroke ?? NAVY, strokeWidth: t.width ?? 1.2 }}
            shape={() => null}
            isAnimationActive={false}
          />
        ))}
        <Scatter
          data={toTags(tags)}
          isAnimationActive={false}
          shape={(p: any) => (
            <g clipPath={`url(#${id})`}>
              <Wide x={p.cx} y={p.cy} text={p.payload.text} size={15} fill="#000" />
            </g>
          )}
        />
        <text
          transform="translate(423,490) scale(1.42,1)"
          textAnchor="middle"
          dy="0.3em"
          fontFamily="Liberation Sans, sans-serif"
          fontStyle="italic"
          fontWeight="bold"
          fontSize={24}
          fill="#666"
        >
          x
        </text>
        <text
          transform="translate(22,227) scale(1.42,1) rotate(-90)"
          textAnchor="middle"
          dy="0.3em"
          fontFamily="Liberation Sans, sans-serif"
          fontStyle="italic"
          fontWeight="bold"
          fontSize={24}
          fill="#666"
        >
          z
        </text>
      </ComposedChart>
    </div>
  );
}

export default function App() {
  return (
    <div style={{ position: "absolute", left: 0, top: 0, width: 764, height: 1506, background: "#fff" }}>
      <Panel id="clip-top" top={0} layers={topLayers} traces={topTraces} tags={topTags} />
      <Panel id="clip-mid" top={502.5} layers={midLayers} traces={midTraces} tags={midTags} />
      <Panel id="clip-bottom" top={1004.5} layers={bottomLayers} traces={bottomTraces} tags={bottomTags} />
    </div>
  );
}
